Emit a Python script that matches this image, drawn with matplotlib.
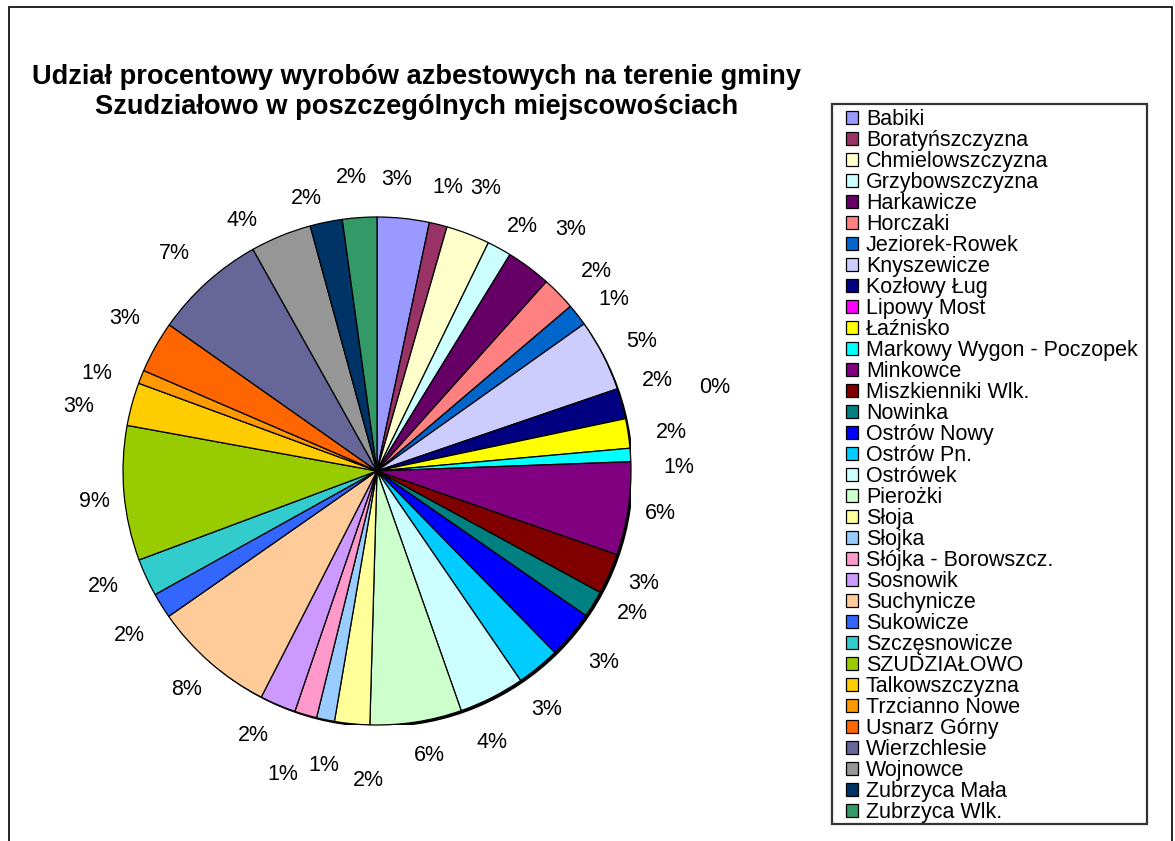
import matplotlib
matplotlib.use("Agg")
import matplotlib.pyplot as plt
import numpy as np
from matplotlib.patches import Rectangle, Circle

plt.rcParams['font.family'] = ['Liberation Sans', 'DejaVu Sans']

# udział procentowy w poszczególnych miejscowościach
places = [
    "Babiki", "Boratyńszczyzna", "Chmielowszczyzna", "Grzybowszczyzna",
    "Harkawicze", "Horczaki", "Jeziorek-Rowek", "Knyszewicze", "Kozłowy Ług",
    "Lipowy Most", "Łaźnisko", "Markowy Wygon - Poczopek", "Minkowce",
    "Miszkienniki Wlk.", "Nowinka", "Ostrów Nowy", "Ostrów Pn.", "Ostrówek",
    "Pierożki", "Słoja", "Słojka", "Słójka - Borowszcz.", "Sosnowik",
    "Suchynicze", "Sukowicze", "Szczęsnowicze", "SZUDZIAŁOWO",
    "Talkowszczyzna", "Trzcianno Nowe", "Usnarz Górny", "Wierzchlesie",
    "Wojnowce", "Zubrzyca Mała", "Zubrzyca Wlk.",
]
shares = [
    3.32, 1.14, 2.79, 1.55, 2.86, 2.17, 1.40, 4.60, 1.95, 0.0,
    1.88, 0.85, 5.95, 2.60, 1.71, 3.04, 2.78, 4.20, 5.85, 2.24,
    1.15, 1.42, 2.30, 7.80, 1.62, 2.40, 8.60, 2.75, 0.86, 3.30,
    7.15, 3.90, 2.06, 2.19,
]
colors = [
    "#9999FF", "#993366", "#FFFFCC", "#CCFFFF", "#660066", "#FF8080",
    "#0066CC", "#CCCCFF", "#000080", "#FF00FF", "#FFFF00", "#00FFFF",
    "#800080", "#800000", "#008080", "#0000FF", "#00CCFF", "#CCFFFF",
    "#CCFFCC", "#FFFF99", "#99CCFF", "#FF99CC", "#CC99FF", "#FFCC99",
    "#3366FF", "#33CCCC", "#99CC00", "#FFCC00", "#FF9900", "#FF6600",
    "#666699", "#969696", "#003366", "#339966",
]
title = ("Udział procentowy wyrobów azbestowych na terenie gminy\n"
         "Szudziałowo w poszczególnych miejscowościach")

# label placement like Excel: distance from centre (in radii) and a small
# clockwise turn (degrees) where labels were shifted to avoid overlap
label_r = [
    1.15, 1.15, 1.19, 1.12, 1.22, 1.17, 1.15, 1.16, 1.16, 1.37,
    1.17, 1.19, 1.13, 1.14, 1.15, 1.17, 1.15, 1.16, 1.14, 1.22,
    1.18, 1.25, 1.15, 1.14, 1.17, 1.17, 1.12, 1.20, 1.17, 1.16,
    1.17, 1.12, 1.11, 1.16,
]
label_turn = [
    -2, 0, 0, 2, 2, 2, 2, 1, -2.5, -2,
    1, 3, 0, -1, -2.5, 0, 4, 4, -1.5, -4,
    -1.5, 1, 2, 0, -1.5, 2, -1, -3, -2.5, 2,
    -1, -6, -3, -1,
]

W, H = 1175, 841
fig = plt.figure(figsize=(W / 100, H / 100), dpi=100)

# pie placement (pixels)
cx, cy, r = 377, 471, 254
ax = fig.add_axes([(cx - r) / W, (H - cy - r) / H, 2 * r / W, 2 * r / H])

# shadow behind the pie
ax.add_patch(Circle((0.009, -0.009), 1.0, facecolor='black', edgecolor='none', zorder=0))

wedges, _ = ax.pie(shares, colors=colors, startangle=90, counterclock=False,
                   wedgeprops=dict(edgecolor='black', linewidth=0.9, zorder=1))
ax.set_xlim(-1, 1)
ax.set_ylim(-1, 1)
ax.set_aspect('equal')
ax.axis('off')

total = sum(shares)
for i, w in enumerate(wedges):
    mid = np.deg2rad((w.theta1 + w.theta2) / 2 - label_turn[i])
    pct = shares[i] / total * 100
    ax.text(label_r[i] * np.cos(mid), label_r[i] * np.sin(mid), f"{int(pct + 0.5)}%",
            ha='center', va='center', fontsize=15.5, color='black')

fig.text(417 / W, 1 - 92 / H, title, ha='center', va='center',
         fontsize=19.6, fontweight='bold', linespacing=1.25)

# legend box (Excel style: square corners, dark border)
fig.add_artist(Rectangle((832 / W, 1 - 824 / H), (1147 - 832) / W, (824 - 104) / H,
                         transform=fig.transFigure, facecolor='white',
                         edgecolor='#333333', linewidth=1.6, zorder=2))

leg = fig.legend(wedges, places, loc='upper left',
                 bbox_to_anchor=(846 / W, 1 - 109 / H), borderaxespad=0,
                 fontsize=15.5, frameon=False, labelspacing=0.0,
                 handlelength=0.55, handleheight=0.55, handletextpad=0.37,
                 borderpad=0)
leg.set_zorder(3)

# chart area border
fig.add_artist(Rectangle((9 / W, -0.1), (1172 - 9) / W, 1.1 - 7 / H,
                         transform=fig.transFigure, fill=False,
                         edgecolor='black', linewidth=1.2))

fig.savefig("out.png", dpi=100)
